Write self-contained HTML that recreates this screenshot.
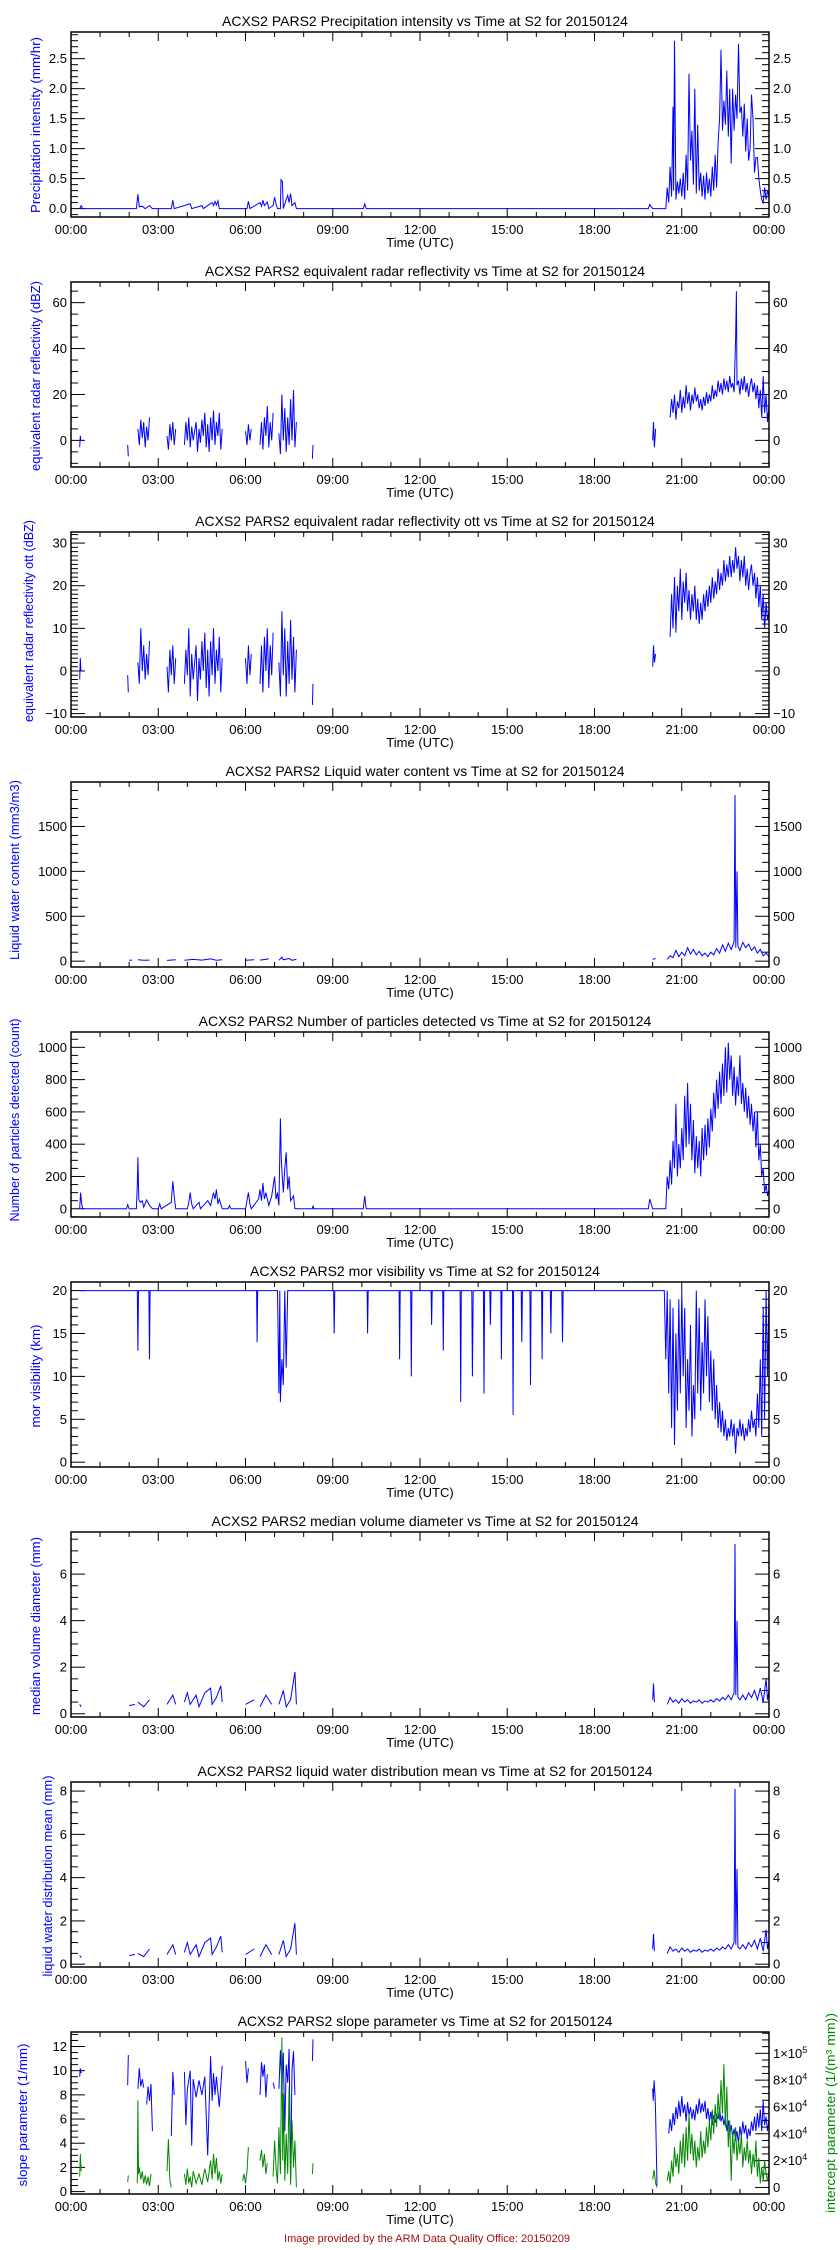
<!DOCTYPE html>
<html><head><meta charset="utf-8"><style>
html,body{margin:0;padding:0;background:#fff;}
svg{display:block;font-family:"Liberation Sans",sans-serif;}
</style></head><body>
<svg id="chart" width="840" height="2250" viewBox="0 0 840 2250" xmlns="http://www.w3.org/2000/svg">
<rect x="0" y="0" width="840" height="2250" fill="#fff"/>
<text x="427" y="2242" text-anchor="middle" font-size="11" fill="#a01010">Image provided by the ARM Data Quality Office: 20150209</text>
</svg>
<script>
const xTickLabels = ["00:00","03:00","06:00","09:00","12:00","15:00","18:00","21:00","00:00"];
const precipPoints = [[0.3,0],[0.35,0.05],[0.4,0],[2.25,0],[2.3,0.24],[2.35,0.03],[2.45,0.04],[2.55,0],[2.7,0.05],[2.8,0],[3.45,0],[3.5,0.14],[3.55,0],[4.1,0.08],[4.15,0],[4.5,0.05],[4.55,0],[4.85,0.1],[4.9,0.05],[4.95,0.12],[5.0,0.06],[5.05,0.13],[5.1,0],[6.05,0],[6.1,0.12],[6.15,0],[6.5,0.1],[6.55,0.04],[6.6,0.14],[6.65,0.05],[6.75,0.11],[6.8,0],[6.95,0.05],[7.0,0.19],[7.05,0.08],[7.1,0],[7.2,0],[7.22,0.48],[7.27,0.45],[7.3,0],[7.4,0.15],[7.45,0.22],[7.5,0.1],[7.55,0.25],[7.6,0.05],[7.7,0.1],[7.75,0],[10.05,0],[10.1,0.08],[10.15,0],[19.85,0],[19.9,0.07],[19.95,0.03],[20.0,0],[20.45,0],[20.5,0.35],[20.55,0.1],[20.6,0.7],[20.65,0.2],[20.7,1.7],[20.72,0.3],[20.75,2.8],[20.8,0.15],[20.85,0.45],[20.9,0.25],[20.95,0.5],[21.0,0.2],[21.05,0.6],[21.1,0.15],[21.15,0.9],[21.2,0.3],[21.25,2.25],[21.3,0.8],[21.35,1.3],[21.4,0.4],[21.45,2.0],[21.5,0.25],[21.55,1.4],[21.6,0.3],[21.65,0.6],[21.7,0.2],[21.75,0.55],[21.8,0.15],[21.85,0.6],[21.9,0.25],[21.95,0.5],[22.0,0.2],[22.05,0.7],[22.1,0.3],[22.15,0.9],[22.2,0.35],[22.25,1.1],[22.3,1.5],[22.35,2.65],[22.4,1.3],[22.45,1.8],[22.5,1.4],[22.55,2.3],[22.6,1.2],[22.65,2.0],[22.7,0.75],[22.75,2.0],[22.8,1.3],[22.85,1.9],[22.9,1.5],[22.95,2.75],[23.0,1.6],[23.05,1.7],[23.1,1.2],[23.15,1.75],[23.2,0.95],[23.25,1.5],[23.3,0.8],[23.35,1.0],[23.4,1.9],[23.45,1.5],[23.5,0.6],[23.55,0.85],[23.6,0.85],[23.65,0.5],[23.7,0.3],[23.75,0.15],[23.8,0.1],[23.85,0.35],[23.9,0.15],[23.95,0.3],[24,0.2]];
const dbzPoints = [[0.3,-3],[0.32,2],[0.34,0],[0.4,null],[1.95,-2],[1.97,-7],[2.0,null],[2.3,5],[2.35,-2],[2.4,9],[2.45,1],[2.5,8],[2.55,-3],[2.6,6],[2.65,0],[2.7,10],[2.75,null],[3.3,2],[3.35,-4],[3.4,7],[3.45,0],[3.5,8],[3.55,-2],[3.6,5],[3.65,null],[3.9,-2],[3.95,8],[4.0,0],[4.05,10],[4.1,-3],[4.15,6],[4.2,0],[4.3,8],[4.35,-5],[4.4,5],[4.45,-1],[4.5,9],[4.55,2],[4.6,12],[4.65,-3],[4.7,7],[4.75,-5],[4.8,10],[4.85,0],[4.9,13],[4.95,-2],[5.0,8],[5.05,2],[5.1,12],[5.15,-4],[5.2,5],[5.25,null],[6.0,4],[6.05,-2],[6.1,7],[6.15,0],[6.2,5],[6.25,null],[6.5,-2],[6.55,8],[6.6,-4],[6.65,10],[6.7,2],[6.75,15],[6.8,-3],[6.85,8],[6.9,0],[6.95,12],[7.0,null],[7.15,3],[7.2,-6],[7.25,20],[7.3,0],[7.35,14],[7.4,-5],[7.45,10],[7.5,-2],[7.55,18],[7.6,0],[7.65,22],[7.7,-3],[7.75,8],[7.8,null],[8.3,-8],[8.32,-2],[8.35,null],[20.0,0],[20.03,8],[20.06,-3],[20.1,5],[20.12,null],[20.6,10],[20.65,18],[20.7,12],[20.75,20],[20.8,9],[20.85,17],[20.9,14],[20.95,22],[21.0,12],[21.05,19],[21.1,14],[21.15,24],[21.2,16],[21.25,21],[21.3,13],[21.35,20],[21.4,16],[21.45,23],[21.5,17],[21.55,20],[21.6,14],[21.65,18],[21.7,13],[21.75,19],[21.8,15],[21.85,21],[21.9,16],[21.95,20],[22.0,17],[22.05,24],[22.1,18],[22.15,22],[22.2,19],[22.25,26],[22.3,21],[22.35,25],[22.4,20],[22.45,27],[22.5,22],[22.55,26],[22.6,21],[22.65,28],[22.7,23],[22.75,25],[22.8,21],[22.85,44],[22.88,65],[22.9,24],[22.95,26],[23.0,20],[23.05,27],[23.1,22],[23.15,28],[23.2,21],[23.25,25],[23.3,19],[23.35,24],[23.4,27],[23.45,21],[23.5,25],[23.55,18],[23.6,24],[23.65,14],[23.7,22],[23.75,10],[23.8,28],[23.85,12],[23.9,20],[23.95,8],[24,15]];
const dbzOttPoints = [[0.3,-2],[0.32,3],[0.34,0],[0.4,null],[1.95,-1],[1.97,-5],[2.0,null],[2.3,2],[2.35,-3],[2.4,10],[2.45,0],[2.5,6],[2.55,-2],[2.6,4],[2.65,-1],[2.7,7],[2.75,null],[3.3,1],[3.35,-5],[3.4,5],[3.45,-1],[3.5,6],[3.55,-3],[3.6,3],[3.65,null],[3.9,-3],[3.95,5],[4.0,-1],[4.05,10],[4.1,-6],[4.15,4],[4.2,-2],[4.3,6],[4.35,-7],[4.4,3],[4.45,-2],[4.5,7],[4.55,0],[4.6,9],[4.65,-4],[4.7,5],[4.75,-6],[4.8,7],[4.85,-1],[4.9,10],[4.95,-3],[5.0,5],[5.05,0],[5.1,8],[5.15,-5],[5.2,3],[5.25,null],[6.0,3],[6.05,-3],[6.1,6],[6.15,-1],[6.2,4],[6.25,null],[6.5,-3],[6.55,6],[6.6,-5],[6.65,8],[6.7,0],[6.75,10],[6.8,-4],[6.85,6],[6.9,-1],[6.95,9],[7.0,null],[7.15,2],[7.2,-6],[7.25,14],[7.3,-1],[7.35,10],[7.4,-6],[7.45,7],[7.5,-3],[7.55,12],[7.6,-2],[7.65,8],[7.7,-5],[7.75,5],[7.8,null],[8.3,-8],[8.32,-3],[8.35,null],[20.0,1],[20.03,6],[20.06,2],[20.1,4],[20.12,null],[20.6,8],[20.65,18],[20.7,10],[20.75,22],[20.8,9],[20.85,20],[20.9,14],[20.95,24],[21.0,12],[21.05,21],[21.1,16],[21.15,23],[21.2,14],[21.25,19],[21.3,12],[21.35,18],[21.4,14],[21.45,20],[21.5,12],[21.55,17],[21.6,11],[21.65,16],[21.7,12],[21.75,18],[21.8,14],[21.85,19],[21.9,15],[21.95,20],[22.0,16],[22.05,22],[22.1,17],[22.15,21],[22.2,18],[22.25,24],[22.3,19],[22.35,23],[22.4,20],[22.45,26],[22.5,21],[22.55,25],[22.6,22],[22.65,27],[22.7,22],[22.75,26],[22.8,23],[22.85,29],[22.9,24],[22.95,27],[23.0,21],[23.05,26],[23.1,22],[23.15,27],[23.2,20],[23.25,24],[23.3,19],[23.35,23],[23.4,25],[23.45,20],[23.5,23],[23.55,17],[23.6,22],[23.65,15],[23.7,20],[23.75,12],[23.8,18],[23.85,10],[23.9,16],[23.95,12],[24,14]];
const lwcPoints = [[2.0,10],[2.1,12],[2.2,null],[2.3,15],[2.5,10],[2.7,12],[2.8,null],[3.3,8],[3.6,15],[3.7,null],[3.9,10],[4.2,20],[4.5,12],[4.8,25],[5.0,10],[5.2,15],[5.25,null],[6.0,10],[6.3,15],[6.35,null],[6.5,12],[6.8,25],[7.0,null],[7.15,10],[7.25,45],[7.3,15],[7.5,30],[7.6,10],[7.75,20],[7.8,null],[20.0,20],[20.1,30],[20.12,null],[20.5,20],[20.6,60],[20.7,40],[20.8,120],[20.9,50],[21.0,100],[21.1,60],[21.2,150],[21.3,80],[21.4,130],[21.5,70],[21.6,110],[21.7,60],[21.8,90],[21.9,50],[22.0,100],[22.1,70],[22.2,140],[22.3,90],[22.4,180],[22.5,110],[22.6,200],[22.7,130],[22.8,220],[22.83,1850],[22.86,150],[22.9,1000],[22.93,170],[23.0,120],[23.1,210],[23.2,150],[23.3,190],[23.4,120],[23.5,160],[23.6,90],[23.7,130],[23.8,60],[23.9,90],[24,50]];
const particlePoints = [[0.3,0],[0.33,100],[0.36,40],[0.4,0],[1.9,0],[1.95,25],[2.0,0],[2.25,0],[2.28,150],[2.3,320],[2.33,60],[2.38,40],[2.45,50],[2.5,10],[2.6,55],[2.7,20],[2.8,0],[3.0,0],[3.05,30],[3.1,0],[3.45,40],[3.5,170],[3.55,80],[3.6,0],[4.0,0],[4.05,40],[4.1,100],[4.15,30],[4.2,0],[4.4,40],[4.45,0],[4.7,50],[4.8,20],[4.9,100],[4.95,60],[5.0,120],[5.05,30],[5.1,60],[5.2,0],[5.4,0],[5.45,20],[5.5,0],[6.0,0],[6.1,100],[6.15,30],[6.2,0],[6.45,60],[6.5,120],[6.55,50],[6.6,160],[6.65,60],[6.7,100],[6.8,20],[6.9,80],[7.0,200],[7.05,60],[7.1,100],[7.15,20],[7.2,560],[7.23,300],[7.3,100],[7.35,250],[7.4,350],[7.45,120],[7.5,200],[7.55,50],[7.65,80],[7.7,0],[8.3,0],[8.32,20],[8.35,0],[10.05,0],[10.1,80],[10.15,0],[19.85,0],[19.9,60],[19.95,30],[20.0,0],[20.45,0],[20.5,200],[20.55,120],[20.6,300],[20.65,150],[20.7,420],[20.75,250],[20.8,650],[20.85,200],[20.9,400],[20.95,250],[21.0,500],[21.05,300],[21.1,700],[21.15,380],[21.2,780],[21.25,400],[21.3,650],[21.35,300],[21.4,550],[21.45,220],[21.5,450],[21.55,250],[21.6,420],[21.65,200],[21.7,500],[21.75,300],[21.8,520],[21.85,330],[21.9,560],[21.95,380],[22.0,620],[22.05,480],[22.1,720],[22.15,560],[22.2,800],[22.25,620],[22.3,850],[22.35,650],[22.4,900],[22.45,700],[22.5,1000],[22.55,720],[22.6,1030],[22.65,800],[22.7,950],[22.75,700],[22.8,880],[22.85,640],[22.9,820],[22.95,700],[23.0,950],[23.05,650],[23.1,780],[23.15,600],[23.2,750],[23.25,560],[23.3,700],[23.35,520],[23.4,650],[23.45,480],[23.5,600],[23.55,380],[23.6,600],[23.65,300],[23.7,400],[23.75,200],[23.8,250],[23.85,100],[23.9,150],[23.95,80],[24,120]];
const visPoints = [[0.3,20],[2.28,20],[2.3,13],[2.32,20],[2.68,20],[2.7,12],[2.72,20],[6.38,20],[6.4,14],[6.42,20],[7.1,20],[7.15,8],[7.18,20],[7.2,7],[7.25,12],[7.3,9],[7.35,20],[7.4,11],[7.45,20],[9.03,20],[9.05,15],[9.07,20],[10.18,20],[10.2,15],[10.22,20],[11.28,20],[11.3,12],[11.32,20],[11.68,20],[11.7,10],[11.72,20],[12.38,20],[12.4,16],[12.42,20],[12.78,20],[12.8,13],[12.82,20],[13.38,20],[13.4,7],[13.42,20],[13.78,20],[13.8,10],[13.83,20],[14.18,20],[14.2,8],[14.22,20],[14.4,20],[14.42,16],[14.44,20],[14.78,20],[14.8,12],[14.82,20],[15.18,20],[15.2,5.5],[15.22,20],[15.48,20],[15.5,14],[15.52,20],[15.78,20],[15.8,9],[15.82,20],[16.18,20],[16.2,12],[16.22,20],[16.48,20],[16.5,15],[16.52,20],[16.88,20],[16.9,14],[16.92,20],[20.4,20],[20.45,12],[20.5,20],[20.55,8],[20.6,19],[20.65,4],[20.7,18],[20.75,2],[20.8,15],[20.85,6],[20.9,19],[20.95,8],[21.0,20],[21.05,10],[21.1,18],[21.15,4],[21.2,12],[21.25,6],[21.3,16],[21.35,3],[21.4,9],[21.45,5],[21.5,20],[21.55,8],[21.6,18],[21.65,6],[21.7,14],[21.75,8],[21.8,19],[21.85,10],[21.9,17],[21.95,7],[22.0,13],[22.05,6],[22.1,12],[22.15,5],[22.2,9],[22.25,4],[22.3,7],[22.35,3.5],[22.4,6],[22.45,3],[22.5,5],[22.55,2.5],[22.6,4],[22.65,3],[22.7,5],[22.75,3],[22.8,4.5],[22.85,1],[22.9,4],[22.95,3],[23.0,5],[23.05,3],[23.1,4.5],[23.15,2.5],[23.2,4],[23.25,3],[23.3,5],[23.35,3.5],[23.4,6],[23.45,4],[23.5,5],[23.55,3],[23.6,8],[23.65,4],[23.7,12],[23.75,3],[23.8,18],[23.85,5],[23.9,20],[23.95,10],[24,20]];
const mvdPoints = [[0.3,0.4],[0.35,0.3],[0.4,null],[2.0,0.35],[2.2,0.4],[2.25,null],[2.3,0.5],[2.5,0.3],[2.7,0.6],[2.8,null],[3.3,0.4],[3.5,0.8],[3.6,0.4],[3.65,null],[3.9,0.5],[4.0,0.9],[4.1,0.4],[4.3,0.8],[4.4,0.3],[4.6,0.9],[4.8,1.1],[4.85,0.4],[5.0,0.7],[5.15,1.2],[5.2,0.5],[5.25,null],[6.0,0.4],[6.3,0.6],[6.35,null],[6.5,0.3],[6.7,0.8],[6.9,0.4],[7.0,null],[7.15,0.4],[7.3,1.0],[7.4,0.3],[7.55,0.6],[7.7,1.8],[7.75,0.4],[7.8,null],[20.0,0.6],[20.03,1.3],[20.06,0.5],[20.1,null],[20.5,0.4],[20.6,0.7],[20.7,0.5],[20.8,0.6],[20.9,0.45],[21.0,0.65],[21.1,0.5],[21.2,0.6],[21.3,0.45],[21.4,0.55],[21.5,0.5],[21.6,0.6],[21.7,0.45],[21.8,0.55],[21.9,0.5],[22.0,0.6],[22.1,0.5],[22.2,0.65],[22.3,0.55],[22.4,0.7],[22.5,0.6],[22.6,0.8],[22.7,0.6],[22.8,0.9],[22.83,7.3],[22.86,0.8],[22.9,4.0],[22.93,0.7],[23.0,0.6],[23.1,0.8],[23.2,0.6],[23.3,0.9],[23.4,0.7],[23.5,1.0],[23.6,0.6],[23.7,1.1],[23.8,0.5],[23.9,1.5],[23.95,0.6],[24,1.0]];
const lwdMeanPoints = [[0.3,0.4],[0.35,0.3],[0.4,null],[2.0,0.4],[2.2,0.45],[2.25,null],[2.3,0.5],[2.5,0.35],[2.7,0.7],[2.8,null],[3.3,0.45],[3.5,0.9],[3.6,0.45],[3.65,null],[3.9,0.55],[4.0,1.0],[4.1,0.45],[4.3,0.9],[4.4,0.35],[4.6,1.0],[4.8,1.2],[4.85,0.45],[5.0,0.8],[5.15,1.3],[5.2,0.55],[5.25,null],[6.0,0.45],[6.3,0.7],[6.35,null],[6.5,0.35],[6.7,0.9],[6.9,0.45],[7.0,null],[7.15,0.45],[7.3,1.1],[7.4,0.35],[7.55,0.7],[7.7,1.9],[7.75,0.45],[7.8,null],[20.0,0.7],[20.03,1.4],[20.06,0.6],[20.1,null],[20.5,0.5],[20.6,0.8],[20.7,0.6],[20.8,0.7],[20.9,0.55],[21.0,0.75],[21.1,0.6],[21.2,0.7],[21.3,0.55],[21.4,0.65],[21.5,0.6],[21.6,0.7],[21.7,0.55],[21.8,0.65],[21.9,0.6],[22.0,0.7],[22.1,0.6],[22.2,0.75],[22.3,0.65],[22.4,0.8],[22.5,0.7],[22.6,0.9],[22.7,0.7],[22.8,1.0],[22.83,8.1],[22.86,0.9],[22.9,4.4],[22.93,0.8],[23.0,0.7],[23.1,0.9],[23.2,0.7],[23.3,1.0],[23.4,0.8],[23.5,1.1],[23.6,0.7],[23.7,1.2],[23.8,0.6],[23.9,1.6],[23.95,0.7],[24,1.1]];
const slopePoints = [[0.3,9.5],[0.32,10.2],[0.35,9.8],[0.4,null],[1.95,8.8],[1.97,11.3],[2.0,null],[2.3,8.5],[2.35,10.2],[2.4,8.7],[2.45,9.3],[2.5,8.6],[2.55,null],[2.6,7.2],[2.65,8.7],[2.7,7.5],[2.75,8.9],[2.8,5.0],[2.82,null],[3.3,8.8],[3.35,null],[3.45,4.6],[3.5,9.9],[3.55,8.0],[3.6,null],[3.9,9.9],[3.95,5.5],[4.0,8.4],[4.1,10.0],[4.15,3.8],[4.2,9.3],[4.3,7.8],[4.4,9.2],[4.5,8.0],[4.6,9.5],[4.7,3.0],[4.8,11.2],[4.85,7.5],[4.9,9.8],[4.95,8.0],[5.0,9.5],[5.1,7.0],[5.2,10.4],[5.25,null],[6.0,10.8],[6.05,9.0],[6.1,10.2],[6.15,null],[6.4,9.0],[6.45,null],[6.5,8.0],[6.55,10.7],[6.6,9.5],[6.65,10.5],[6.7,7.8],[6.75,9.7],[6.8,null],[6.95,9.0],[7.0,8.5],[7.05,null],[7.15,8.5],[7.2,11.7],[7.25,8.5],[7.3,11.5],[7.35,5.0],[7.4,10.5],[7.45,9.0],[7.5,11.8],[7.55,1.0],[7.6,10.0],[7.65,11.6],[7.7,8.0],[7.75,null],[8.3,10.8],[8.32,12.6],[8.35,null],[20.0,8.5],[20.02,7.5],[20.05,9.2],[20.08,8.0],[20.1,6.5],[20.15,0.5],[20.17,null],[20.55,4.8],[20.6,6.0],[20.65,5.0],[20.7,6.5],[20.75,5.5],[20.8,7.0],[20.85,6.0],[20.9,7.5],[20.95,6.2],[21.0,7.9],[21.05,6.5],[21.1,7.2],[21.15,5.8],[21.2,7.4],[21.25,6.3],[21.3,7.0],[21.35,6.0],[21.4,6.8],[21.45,5.9],[21.5,7.2],[21.55,6.4],[21.6,7.7],[21.65,6.5],[21.7,7.3],[21.75,6.6],[21.8,7.5],[21.85,6.0],[21.9,6.9],[21.95,5.8],[22.0,6.6],[22.05,5.5],[22.1,6.3],[22.15,5.7],[22.2,6.4],[22.25,6.0],[22.3,7.0],[22.35,5.8],[22.4,6.3],[22.45,5.5],[22.5,6.2],[22.55,5.0],[22.6,5.9],[22.65,4.7],[22.7,5.5],[22.75,4.5],[22.8,5.2],[22.85,4.2],[22.9,5.0],[22.95,4.0],[23.0,5.4],[23.05,4.5],[23.1,5.8],[23.15,4.8],[23.2,5.5],[23.25,4.3],[23.3,5.2],[23.35,4.6],[23.4,5.8],[23.45,5.0],[23.5,6.2],[23.55,5.0],[23.6,6.5],[23.65,5.3],[23.7,6.8],[23.75,5.0],[23.8,7.5],[23.85,5.5],[23.9,6.2],[23.95,5.0],[24,6.0]];
const interceptPoints = [[0.3,8000],[0.32,25000],[0.35,12000],[0.4,null],[1.95,4000],[1.97,9000],[2.0,null],[2.28,3000],[2.3,65000],[2.32,10000],[2.35,15000],[2.4,6000],[2.45,12000],[2.5,3000],[2.55,9000],[2.6,2000],[2.65,8000],[2.7,1000],[2.75,10000],[2.8,null],[3.3,12000],[3.35,36000],[3.4,5000],[3.45,0],[3.5,null],[3.9,10000],[3.95,2000],[4.0,14000],[4.05,3000],[4.1,8000],[4.15,0],[4.2,12000],[4.3,3000],[4.4,10000],[4.5,2000],[4.6,14000],[4.7,4000],[4.8,20000],[4.85,6000],[4.9,25000],[4.95,10000],[5.0,22000],[5.05,5000],[5.1,12000],[5.15,3000],[5.2,10000],[5.25,null],[5.9,5000],[5.95,10000],[6.0,3000],[6.05,12000],[6.1,30000],[6.15,null],[6.5,20000],[6.55,28000],[6.6,15000],[6.65,25000],[6.7,10000],[6.75,18000],[6.8,null],[6.95,8000],[7.0,35000],[7.05,15000],[7.1,3000],[7.15,45000],[7.2,10000],[7.25,112000],[7.28,20000],[7.3,70000],[7.35,5000],[7.4,40000],[7.45,10000],[7.5,75000],[7.55,2000],[7.6,50000],[7.65,15000],[7.7,35000],[7.75,0],[7.8,null],[8.3,10000],[8.32,18000],[8.35,null],[20.0,6000],[20.05,13000],[20.1,3000],[20.15,0],[20.17,null],[20.5,5000],[20.55,12000],[20.6,3000],[20.65,20000],[20.7,8000],[20.75,30000],[20.8,15000],[20.85,25000],[20.9,10000],[20.95,35000],[21.0,18000],[21.05,40000],[21.1,15000],[21.15,45000],[21.2,20000],[21.25,55000],[21.3,25000],[21.35,40000],[21.4,20000],[21.45,35000],[21.5,15000],[21.55,30000],[21.6,20000],[21.65,42000],[21.7,22000],[21.75,35000],[21.8,25000],[21.85,45000],[21.9,30000],[21.95,50000],[22.0,35000],[22.05,58000],[22.1,40000],[22.15,62000],[22.2,45000],[22.25,70000],[22.3,50000],[22.35,80000],[22.4,55000],[22.45,92000],[22.5,45000],[22.55,75000],[22.6,30000],[22.65,50000],[22.7,5000],[22.75,40000],[22.8,25000],[22.85,45000],[22.9,20000],[22.95,35000],[23.0,25000],[23.05,40000],[23.1,15000],[23.15,30000],[23.2,20000],[23.25,35000],[23.3,18000],[23.35,28000],[23.4,10000],[23.45,25000],[23.5,15000],[23.55,35000],[23.6,8000],[23.65,22000],[23.7,3000],[23.75,15000],[23.8,5000],[23.85,20000],[23.9,10000],[23.95,5000],[24,12000]];
const interceptTickValues = [0,20000,40000,60000,80000,100000];
const interceptTickLabels = ["0","2×10^4","4×10^4","6×10^4","8×10^4","1×10^5"];

const NS = "http://www.w3.org/2000/svg";
const svg = document.getElementById('chart');
const X0 = 71, X1 = 769;
function xScale(h){ return X0 + h/24*(X1-X0); }
function mk(tag, attrs, parent){
  const e = document.createElementNS(NS, tag);
  for (const k in attrs) e.setAttribute(k, attrs[k]);
  (parent||svg).appendChild(e);
  return e;
}
function fmt(v, dec){ return v < 0 ? "\u2212" + Math.abs(v).toFixed(dec) : v.toFixed(dec); }

const panels = [
 {name:"precipitation", title:"ACXS2 PARS2 Precipitation intensity vs Time at S2 for 20150124", ylabel:"Precipitation intensity (mm/hr)", lx:35, ly:125, llen:176, min:-0.14, max:2.945, major:0.5, minor:0.1, dec:1, data:precipPoints},
 {name:"reflectivity", title:"ACXS2 PARS2 equivalent radar reflectivity vs Time at S2 for 20150124", ylabel:"equivalent radar reflectivity (dBZ)", lx:35, ly:126, llen:190, min:-11.6, max:69, major:20, minor:5, dec:0, data:dbzPoints},
 {name:"reflectivity-ott", title:"ACXS2 PARS2 equivalent radar reflectivity ott vs Time at S2 for 20150124", ylabel:"equivalent radar reflectivity ott (dBZ)", lx:28, ly:121, llen:202, min:-10.8, max:32.6, major:10, minor:1, dec:0, data:dbzOttPoints},
 {name:"liquid-water-content", title:"ACXS2 PARS2 Liquid water content vs Time at S2 for 20150124", ylabel:"Liquid water content (mm3/m3)", lx:14, ly:120, llen:180, min:-65, max:1995, major:500, minor:100, dec:0, data:lwcPoints},
 {name:"particles", title:"ACXS2 PARS2 Number of particles detected vs Time at S2 for 20150124", ylabel:"Number of particles detected (count)", lx:14, ly:120, llen:203, min:-51, max:1095, major:200, minor:50, dec:0, data:particlePoints},
 {name:"visibility", title:"ACXS2 PARS2 mor visibility vs Time at S2 for 20150124", ylabel:"mor visibility (km)", lx:35, ly:126, llen:103, min:-0.56, max:21.0, major:5, minor:1, dec:0, data:visPoints},
 {name:"median-volume-diameter", title:"ACXS2 PARS2 median volume diameter vs Time at S2 for 20150124", ylabel:"median volume diameter (mm)", lx:35, ly:126, llen:178, min:-0.14, max:7.81, major:2, minor:0.5, dec:0, data:mvdPoints},
 {name:"lwd-mean", title:"ACXS2 PARS2 liquid water distribution mean vs Time at S2 for 20150124", ylabel:"liquid water distribution mean (mm)", lx:47, ly:126, llen:201, min:-0.13, max:8.42, major:2, minor:0.5, dec:0, data:lwdMeanPoints},
 {name:"slope-parameter", title:"ACXS2 PARS2 slope parameter vs Time at S2 for 20150124", ylabel:"slope parameter (1/mm)", lx:22, ly:115, llen:143, min:-0.2, max:13.2, major:2, minor:0.5, dec:0, data:slopePoints, bottom:194}
];

function drawLine(pts, ys, color, g, name){
  let d = "", pen = false;
  pts.forEach(p => {
    if (p[1] === null) { pen = false; return; }
    d += (pen ? "L" : "M") + xScale(p[0]).toFixed(1) + " " + ys(p[1]).toFixed(1);
    pen = true;
  });
  const path = mk('path', {d:d, fill:"none", stroke:color, "stroke-width":"1"}, g);
  
  
}

panels.forEach((P, i) => {
  const off = 250*i, top = off+32, bot = off + (P.bottom||217);
  const g = mk('g', {});
  
  
  const ys = v => bot - (v - P.min)/(P.max - P.min)*(bot - top);
  const t = mk('text', {x:425, y:off+26, "text-anchor":"middle", "font-size":"14", fill:"#000"}, g);
  t.textContent = P.title;
  
  
  const eps = 1e-9;
  for (let v = Math.ceil(P.min/P.minor - eps)*P.minor; v <= P.max + eps; v += P.minor) {
    const y = ys(v);
    const isMajor = Math.abs(v/P.major - Math.round(v/P.major)) < 1e-6;
    const len = isMajor ? 14 : 7;
    mk('line', {x1:X0, x2:X0+len, y1:y, y2:y, stroke:"#000", "stroke-width":"1"}, g);
    const rlen = (i===8) ? 0 : len;
    if (rlen) mk('line', {x1:X1, x2:X1-rlen, y1:y, y2:y, stroke:"#000", "stroke-width":"1"}, g);
    if (isMajor) {
      const lab = fmt(Math.round(v/P.major)*P.major, P.dec);
      const tl = mk('text', {x:X0-4, y:y+4.5, "text-anchor":"end", "font-size":"13", fill:"#000"}, g);
      tl.textContent = lab;
      
      
      if (i !== 8) {
        const tr = mk('text', {x:X1+4, y:y+4.5, "text-anchor":"start", "font-size":"13", fill:"#000"}, g);
        tr.textContent = lab;
        
        
      }
    }
  }
  for (let h = 0; h <= 24; h++) {
    const x = xScale(h), major = h % 3 === 0, len = major ? 9 : 5;
    mk('line', {x1:x, x2:x, y1:bot, y2:bot-len, stroke:"#000", "stroke-width":"1"}, g);
    mk('line', {x1:x, x2:x, y1:top, y2:top+len, stroke:"#000", "stroke-width":"1"}, g);
    if (major) {
      const xl = mk('text', {x:x, y:bot+17, "text-anchor":"middle", "font-size":"13", fill:"#000"}, g);
      xl.textContent = xTickLabels[h/3];
      
      
    }
  }
  const xt = mk('text', {x:420, y:bot+30, "text-anchor":"middle", "font-size":"13", fill:"#000"}, g);
  xt.textContent = "Time (UTC)";
  
  
  const yt = mk('text', {x:0, y:0, transform:`translate(${P.lx+5},${off+P.ly}) rotate(-90)`, "text-anchor":"middle", "font-size":"13", fill:"#0000ff", textLength:P.llen, lengthAdjust:"spacingAndGlyphs"}, g);
  yt.textContent = P.ylabel;
  
  
  drawLine(P.data, ys, "#0000ff", g, P.name + '-series');
  if (i === 8) {
    const imin = -4900, imax = 115900;
    const ys2 = v => bot - (v - imin)/(imax - imin)*(bot - top);
    for (let v = 0; v <= imax; v += 5000) {
      const major = v % 20000 === 0;
      const y = ys2(v);
      mk('line', {x1:X1, x2:X1-(major?14:7), y1:y, y2:y, stroke:"#000", "stroke-width":"1"}, g);
    }
    interceptTickValues.forEach((v, k) => {
      const tx = mk('text', {x:X1+4, y:ys2(v)+4.5, "font-size":"13", fill:"#000"}, g);
      
      
      const parts = interceptTickLabels[k].split('^');
      tx.appendChild(document.createTextNode(parts[0]));
      if (parts[1]) {
        const sp = mk('tspan', {dy:"-5", "font-size":"9"}, tx);
        sp.textContent = parts[1];
      }
    });
    const y2t = mk('text', {x:0, y:0, transform:`translate(835,${off+113}) rotate(-90)`, "text-anchor":"middle", "font-size":"13", fill:"#008800", textLength:200, lengthAdjust:"spacingAndGlyphs"}, g);
    y2t.textContent = "intercept parameter (1/(m³ mm))";
    
    
    drawLine(interceptPoints, ys2, "#008800", g, 'intercept-series');
  }
  const fr = mk('rect', {x:X0, y:top, width:X1-X0, height:bot-top, fill:"none", stroke:"#000", "stroke-width":"1.5"}, g);
  
  
});
</script>
</body></html>
